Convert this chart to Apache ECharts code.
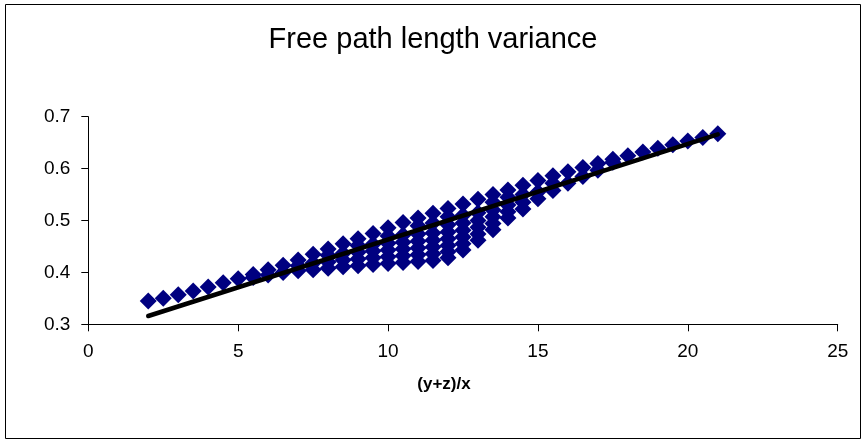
<!DOCTYPE html>
<html>
<head>
<meta charset="utf-8">
<script src="https://cdn.jsdelivr.net/npm/echarts@6/dist/echarts.min.js"></script>
<style>html,body{margin:0;padding:0;background:#fff}#c{width:866px;height:444px}</style>
</head>
<body>
<div id="c"></div>
<script>
// x position of each column of points
var xCols = [2, 2.5, 3, 3.5, 4, 4.5, 5, 5.5, 6, 6.5, 7, 7.5, 8, 8.5, 9, 9.5, 10, 10.5, 11, 11.5,
  12, 12.5, 13, 13.5, 14, 14.5, 15, 15.5, 16, 16.5, 17, 17.5, 18, 18.5, 19, 19.5, 20, 20.5, 21];
// variance values in each column
var yCols = [
  [0.345],
  [0.350],
  [0.357],
  [0.364],
  [0.372],
  [0.380],
  [0.388],
  [0.390, 0.396],
  [0.395, 0.405],
  [0.400, 0.414],
  [0.403, 0.413, 0.424],
  [0.405, 0.418, 0.435],
  [0.408, 0.420, 0.433, 0.445],
  [0.411, 0.424, 0.437, 0.455],
  [0.413, 0.426, 0.439, 0.452, 0.465],
  [0.415, 0.428, 0.441, 0.454, 0.475],
  [0.417, 0.430, 0.443, 0.456, 0.470, 0.486],
  [0.419, 0.432, 0.445, 0.458, 0.472, 0.496],
  [0.421, 0.434, 0.447, 0.460, 0.474, 0.490, 0.505],
  [0.423, 0.436, 0.449, 0.462, 0.476, 0.495, 0.514],
  [0.428, 0.440, 0.452, 0.465, 0.478, 0.492, 0.507, 0.523],
  [0.443, 0.455, 0.468, 0.481, 0.495, 0.510, 0.532],
  [0.462, 0.474, 0.487, 0.500, 0.515, 0.541],
  [0.482, 0.494, 0.507, 0.520, 0.535, 0.550],
  [0.505, 0.517, 0.530, 0.545, 0.559],
  [0.522, 0.535, 0.550, 0.568],
  [0.542, 0.555, 0.577],
  [0.558, 0.572, 0.586],
  [0.572, 0.594],
  [0.585, 0.602],
  [0.597, 0.610],
  [0.612, 0.618],
  [0.625],
  [0.632],
  [0.639],
  [0.646],
  [0.653],
  [0.660],
  [0.667]
];
// linear trend line end points
var trendX = [2, 21];
var trendY = [0.316, 0.666];

var xTicks = [0, 5, 10, 15, 20, 25];
var yTicks = [0.3, 0.4, 0.5, 0.6, 0.7];

var titleText = 'Free path length variance';
var xName = '(y+z)/x';

var points = [];
xCols.forEach(function (x, i) {
  yCols[i].forEach(function (y) { points.push([x, y]); });
});
var trend = trendX.map(function (x, i) { return [x, trendY[i]]; });

var chart = echarts.init(document.getElementById('c'), null, {renderer: 'canvas'});
var font = 'Liberation Sans, Arial, sans-serif';
chart.setOption({
  animation: false,
  backgroundColor: '#ffffff',
  title: {
    text: titleText,
    left: 'center',
    top: 20,
    textStyle: {fontFamily: font, fontSize: 29, fontWeight: 'normal', color: '#000'}
  },
  grid: {left: 88.3, right: 28.3, top: 116.7, bottom: 119.7},
  xAxis: {
    type: 'value',
    min: xTicks[0], max: xTicks[xTicks.length - 1], interval: 5,
    name: xName,
    nameLocation: 'middle',
    nameGap: 52,
    nameTextStyle: {fontFamily: font, fontSize: 17, fontWeight: 'bold', color: '#000', padding: [0, 38, 0, 0]},
    axisLine: {show: true, lineStyle: {color: '#000', width: 1}},
    axisTick: {show: true, length: 7, inside: false, lineStyle: {color: '#000'}},
    axisLabel: {fontFamily: font, fontSize: 19, color: '#000', margin: 18},
    splitLine: {show: false}
  },
  yAxis: {
    type: 'value',
    min: yTicks[0], max: yTicks[yTicks.length - 1], interval: 0.1,
    axisLine: {show: true, lineStyle: {color: '#000', width: 1}},
    axisTick: {show: true, length: 7, inside: false, lineStyle: {color: '#000'}},
    axisLabel: {fontFamily: font, fontSize: 19, color: '#000', margin: 18,
      formatter: function (v) { return (Math.round(v * 10) / 10).toString(); }},
    splitLine: {show: false}
  },
  graphic: [{
    type: 'rect',
    shape: {x: 5.5, y: 4.5, width: 855, height: 434},
    style: {fill: null, stroke: '#000', lineWidth: 1},
    silent: true
  }],
  series: [{
    type: 'scatter',
    data: points,
    symbol: 'diamond',
    symbolSize: 17,
    itemStyle: {color: '#000080', opacity: 1},
    z: 2
  }, {
    type: 'line',
    data: trend,
    symbol: 'none',
    lineStyle: {color: '#000', width: 4.5, cap: 'round'},
    z: 3
  }]
});
</script>
</body>
</html>
